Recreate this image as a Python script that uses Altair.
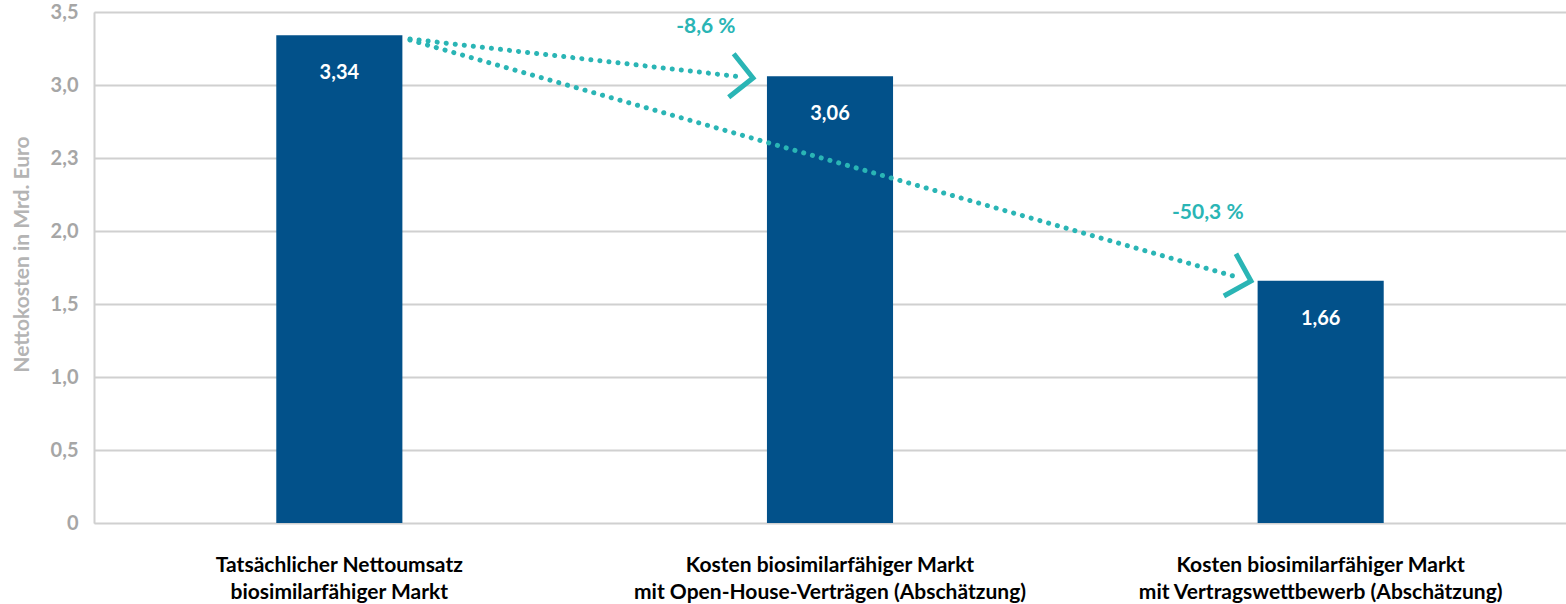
import altair as alt
import pandas as pd

# ---------------- data ----------------
categories = [
    "Tatsächlicher Nettoumsatz\nbiosimilarfähiger Markt",
    "Kosten biosimilarfähiger Markt\nmit Open-House-Verträgen (Abschätzung)",
    "Kosten biosimilarfähiger Markt\nmit Vertragswettbewerb (Abschätzung)",
]
values = [3.34, 3.06, 1.66]
value_labels = ["3,34", "3,06", "1,66"]

y_ticks = [0, 0.5, 1.0, 1.5, 2.0, 2.5, 3.0, 3.5]
y_tick_labels = ["0", "0,5", "1,0", "1,5", "2,0", "2,3", "3,0", "3,5"]

# arrows (x in category units: category i is centred at i + 0.5)
arrow_start_pos = [0.644, 0.644]
arrow_start_val = [3.315, 3.308]
arrow_end_pos = [1.321, 2.336]
arrow_end_val = [3.055, 1.678]
head_pos = [1.343, 2.358]
head_val = [3.048, 1.658]
head_angle = [6.5, 16.0]
change_labels = ["-8,6 %", "-50,3 %"]
change_pos = [1.247, 2.270]
change_val = [3.394, 2.12]

# ---------------- style ----------------
BAR = "#02518a"
TEAL = "#2ab5b5"
GRID = "#d0d0d0"
AXIS_TXT = "#a6a6a6"
FONT = "Lato"

bars_df = pd.DataFrame({"cat": categories, "value": values, "lab": value_labels})
arrows_df = pd.DataFrame({
    "sp": arrow_start_pos, "sv": arrow_start_val,
    "ep": arrow_end_pos, "ev": arrow_end_val,
    "hp": head_pos, "hv": head_val, "ang": head_angle,
    "lab": change_labels, "lp": change_pos, "lv": change_val,
})

label_expr = ""
for v, l in zip(y_ticks, y_tick_labels):
    label_expr += f"datum.value == {v} ? '{l}' : "
label_expr += "''"

yscale = alt.Scale(domain=[0, 3.5], nice=False, zero=True)
qx = alt.Scale(domain=[0, 3], nice=False, zero=False)
band = alt.Scale(paddingInner=0.743, paddingOuter=0.3715)

y_axis = alt.Axis(values=y_ticks, labelExpr=label_expr,
                  title="Nettokosten in Mrd. Euro",
                  grid=True, gridColor=GRID, gridWidth=2,
                  domain=True, domainColor=GRID, domainWidth=2,
                  ticks=False, tickSize=0,
                  labelFont=FONT, labelFontSize=20, labelFontWeight="bold",
                  labelColor=AXIS_TXT, labelPadding=16,
                  titleFont=FONT, titleFontSize=21, titleFontWeight="bold",
                  titleColor="#b4b4b4", titleX=-72, titleY=242, titleAngle=270,
                  titleAlign="center", titleBaseline="middle")

bars = alt.Chart(bars_df).mark_bar(color=BAR).encode(
    x=alt.X("cat:N", sort=None, scale=band, title=None,
            axis=alt.Axis(labelExpr="split(datum.label, '\\n')", labelAngle=0,
                          labelFont=FONT, labelFontSize=21, labelFontWeight="bold",
                          labelColor="#000000", labelLineHeight=27, labelPadding=31,
                          labelLimit=0, domain=False, ticks=False, grid=False)),
    y=alt.Y("value:Q", scale=yscale, axis=y_axis),
)

bar_text = alt.Chart(bars_df).mark_text(
    color="white", font=FONT, fontSize=20, fontWeight="bold", dy=38, baseline="middle"
).encode(
    x=alt.X("cat:N", sort=None, scale=band, axis=None),
    y=alt.Y("value:Q", scale=yscale, axis=y_axis),
    text="lab:N",
)

lines = alt.Chart(arrows_df).mark_rule(
    color=TEAL, strokeWidth=5, strokeDash=[0.1, 9], strokeCap="round"
).encode(
    x=alt.X("sp:Q", scale=qx, axis=None),
    x2="ep:Q",
    y=alt.Y("sv:Q", scale=yscale, axis=y_axis),
    y2="ev:Q",
)

heads = alt.Chart(arrows_df).mark_point(
    shape="M -1 -1 L 0 0 L -1 1", filled=False, stroke=TEAL, strokeWidth=5,
    size=1920, opacity=1, strokeCap="butt", strokeJoin="miter"
).encode(
    x=alt.X("hp:Q", scale=qx, axis=None),
    y=alt.Y("hv:Q", scale=yscale, axis=y_axis),
    angle=alt.Angle("ang:Q", scale=None),
)

change_text = alt.Chart(arrows_df).mark_text(
    color=TEAL, font=FONT, fontSize=21, fontWeight="bold", baseline="middle"
).encode(
    x=alt.X("lp:Q", scale=qx, axis=None),
    y=alt.Y("lv:Q", scale=yscale, axis=y_axis),
    text="lab:N",
)

chart = alt.layer(bars, bar_text, lines, heads, change_text).resolve_scale(
    x="independent"
).properties(
    width=1472, height=511,
    autosize=alt.AutoSizeParams(type="none"),
    padding={"left": 94, "top": 12, "right": 0, "bottom": 81},
).configure_view(stroke=None).configure(background="white")

chart.save("out.html", embed_options={"renderer": "svg", "actions": False})
